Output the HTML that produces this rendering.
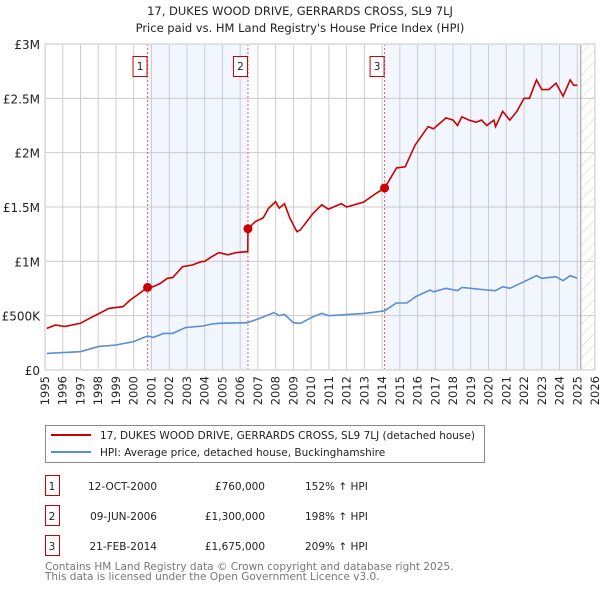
<!DOCTYPE html>
<html><head><meta charset="utf-8"><style>
body{margin:0;background:#fff;font-family:"DejaVu Sans","Liberation Sans",sans-serif;}
svg text{font-family:"DejaVu Sans","Liberation Sans",sans-serif;}
</style></head><body>
<svg id="chart" width="600" height="590" xmlns="http://www.w3.org/2000/svg">
<defs><pattern id="hatch" width="8" height="8" patternUnits="userSpaceOnUse" patternTransform="rotate(45)"><line x1="0" y1="0" x2="0" y2="8" stroke="#d0d0d0" stroke-width="1"/></pattern></defs>
<text x="300" y="15" text-anchor="middle" font-size="11.5" fill="#222">17, DUKES WOOD DRIVE, GERRARDS CROSS, SL9 7LJ</text>
<text x="300" y="32" text-anchor="middle" font-size="11.5" fill="#222">Price paid vs. HM Land Registry's House Price Index (HPI)</text>
<g id="plot"></g>
<g>
<rect x="45.5" y="425.5" width="439" height="37" fill="#fff" stroke="#888"/>
<line x1="51" y1="435" x2="91" y2="435" stroke="#cc0000" stroke-width="2"/>
<text x="100" y="439" font-size="10.5" fill="#222">17, DUKES WOOD DRIVE, GERRARDS CROSS, SL9 7LJ (detached house)</text>
<line x1="51" y1="452" x2="91" y2="452" stroke="#5b8dd6" stroke-width="2"/>
<text x="100" y="456" font-size="10.5" fill="#222">HPI: Average price, detached house, Buckinghamshire</text>
</g>
<g id="table"></g>
<text x="45" y="570" font-size="10.5" fill="#777">Contains HM Land Registry data © Crown copyright and database right 2025.</text>
<text x="45" y="580" font-size="10.5" fill="#777">This data is licensed under the Open Government Licence v3.0.</text>
</svg>
<script>
const hpiYears=[1995.1,1996,1997,1998,1999,2000,2000.78,2001.1,2001.7,2002.2,2002.9,2003.9,2004.4,2004.8,2006.4,2007.1,2007.9,2008.2,2008.5,2009.0,2009.4,2010.1,2010.6,2011,2013,2014.14,2014.8,2015.4,2015.9,2016.7,2016.9,2017.6,2018.25,2018.5,2019.9,2020.4,2020.8,2021.2,2022.0,2022.7,2023.0,2023.8,2024.2,2024.6,2025.0];
const hpiValues=[153,160,168,215,230,261,313,300,337,337,390,405,423,430,435,475,528,500,512,435,430,490,521,500,521,545,617,617,675,736,720,752,730,760,736,730,767,752,813,868,844,859,822,868,844];
const priceYears=[1995.1,1995.6,1996.1,1997,1997.5,1998,1998.6,1999.4,1999.8,2000.2,2000.78,2001.1,2001.5,2001.9,2002.2,2002.75,2003.3,2003.8,2004,2004.4,2004.8,2005.3,2005.8,2006.43,2006.44,2006.85,2007.3,2007.6,2008.0,2008.2,2008.5,2008.8,2009.2,2009.4,2010.1,2010.6,2010.97,2011.7,2012,2012.95,2013.7,2014.14,2014.82,2015.3,2015.86,2016.6,2016.9,2017.6,2018,2018.25,2018.5,2018.9,2019.3,2019.6,2019.9,2020.3,2020.4,2020.8,2021.2,2021.6,2022.0,2022.3,2022.7,2023.0,2023.4,2023.8,2024.2,2024.6,2024.8,2025.0];
const priceValues=[383,414,400,430,475,515,567,583,644,690,760,767,797,844,850,951,966,997,1000,1043,1080,1060,1080,1090,1300,1365,1400,1487,1549,1490,1530,1400,1273,1290,1440,1520,1480,1530,1500,1545,1630,1675,1860,1870,2070,2240,2220,2320,2300,2250,2330,2300,2280,2300,2250,2300,2240,2380,2300,2380,2500,2500,2670,2580,2580,2640,2520,2670,2620,2620];
const saleLabels=["1","2","3"];
const saleYears=[2000.78,2006.44,2014.14];
const saleValues=[760,1300,1675];
const saleDates=["12-OCT-2000","09-JUN-2006","21-FEB-2014"];
const salePrices=["£760,000","£1,300,000","£1,675,000"];
const salePcts=["152% ↑ HPI","198% ↑ HPI","209% ↑ HPI"];
const yTicks=[0,500,1000,1500,2000,2500,3000];
const yTickLabels=["£0","£500K","£1M","£1.5M","£2M","£2.5M","£3M"];
const xStart=1995,xEnd=2026,dataEnd=2025.2;

const L=45,R=595,T=44,B=370,NS="http://www.w3.org/2000/svg";
const X=y=>L+(y-xStart)/(xEnd-xStart)*(R-L);
const Y=v=>B-v/3000*(B-T);
const plot=document.getElementById('plot');
function mk(tag,attrs,parent){const e=document.createElementNS(NS,tag);for(const k in attrs)e.setAttribute(k,attrs[k]);(parent||plot).appendChild(e);return e;}
mk('rect',{x:L,y:T,width:R-L,height:B-T,fill:'#fff'});
let s1=mk('rect',{x:X(saleYears[0]),y:T,width:X(saleYears[1])-X(saleYears[0]),height:B-T,fill:'#f2f6fe'});


let s2=mk('rect',{x:X(saleYears[2]),y:T,width:X(dataEnd)-X(saleYears[2]),height:B-T,fill:'#f2f6fe'});


let h=mk('rect',{x:X(dataEnd),y:T,width:R-X(dataEnd),height:B-T,fill:'url(#hatch)'});


for(let yr=xStart;yr<=xEnd;yr++){
  const g=mk('line',{x1:X(yr),x2:X(yr),y1:T,y2:B,stroke:'#ccc','stroke-width':1});
  
  
  const t=mk('text',{x:0,y:0,'font-size':11.5,fill:'#222','text-anchor':'end',transform:`translate(${X(yr)+4},376) rotate(-90)`});
  t.textContent=yr;
  
  
}
yTicks.forEach((v,i)=>{
  const g=mk('line',{x1:L,x2:R,y1:Y(v),y2:Y(v),stroke:'#ccc','stroke-width':1});
  
  
  const t=mk('text',{x:40,y:Y(v)+5,'font-size':12,fill:'#222','text-anchor':'end'});
  t.textContent=yTickLabels[i];
  
  
});
let nl=mk('line',{x1:X(dataEnd),x2:X(dataEnd),y1:T,y2:B,stroke:'#999','stroke-width':1});


saleYears.forEach((yr,i)=>{
  const l=mk('line',{x1:X(yr),x2:X(yr),y1:T,y2:B,stroke:'#e06666','stroke-width':1,'stroke-dasharray':'2,2'});
  
  
  const b=mk('rect',{x:X(yr)-14.5,y:56.5,width:14,height:20,fill:'#fff',stroke:'#cc0000'});
  
  
  const t=mk('text',{x:X(yr)-7.5,y:70,'font-size':10.5,fill:'#222','text-anchor':'middle'});
  t.textContent=saleLabels[i];
  
  
});
const path=(xs,vs)=>xs.map((x,i)=>(i?'L':'M')+X(x).toFixed(1)+','+Y(vs[i]).toFixed(1)).join('');
let hp=mk('path',{d:path(hpiYears,hpiValues),fill:'none',stroke:'#5b8dd6','stroke-width':1.6});


let pp=mk('path',{d:path(priceYears,priceValues),fill:'none',stroke:'#cc0000','stroke-width':1.6});


saleYears.forEach((yr,i)=>{
  const c=mk('circle',{cx:X(yr),cy:Y(saleValues[i]),r:4.5,fill:'#cc0000'});
  
  
});
let fr=mk('rect',{x:L+0.5,y:T+0.5,width:R-L-1,height:B-T-1,fill:'none',stroke:'#ddd'});


const tb=document.getElementById('table');
saleLabels.forEach((lab,i)=>{
  const y0=476+i*30;
  const b=mk('rect',{x:45.5,y:y0-0.5,width:14,height:20,fill:'#fff',stroke:'#cc0000'},tb);
  
  
  const cells=[[52,'middle',lab],[157,'end',saleDates[i]],[265,'end',salePrices[i]],[305,'start',salePcts[i]]];
  cells.forEach(([x,a,s],j)=>{
    const t=mk('text',{x:x,y:y0+14,'font-size':10.5,fill:'#222','text-anchor':a},tb);
    t.textContent=s;
    
    
  });
});
</script>
</body></html>
